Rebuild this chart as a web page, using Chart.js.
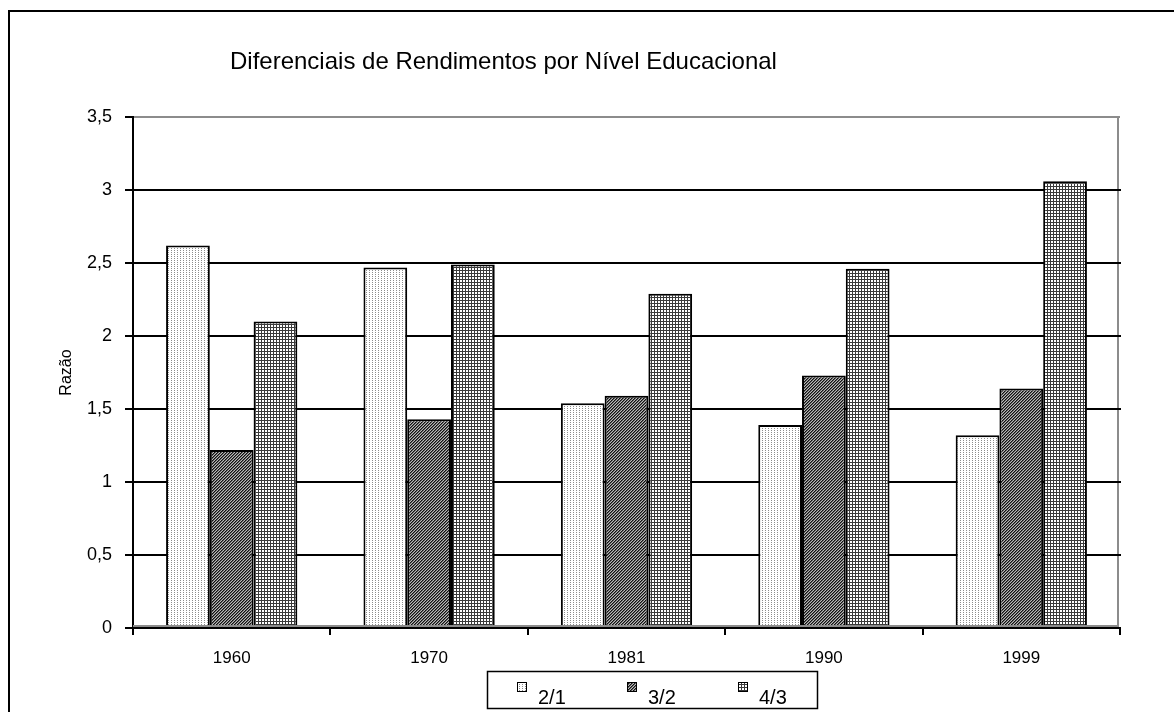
<!DOCTYPE html>
<html>
<head>
<meta charset="utf-8">
<script src="https://cdn.jsdelivr.net/npm/chart.js@4.4.1/dist/chart.umd.min.js"></script>
<style>
  html, body { margin: 0; padding: 0; background: #fff; }
  #wrap { width: 1174px; height: 712px; }
</style>
</head>
<body>
<div id="wrap"><canvas id="c" width="1174" height="712"></canvas></div>
<script>
const anos = ["1960", "1970", "1981", "1990", "1999"];
const razao21 = [2.62, 2.47, 1.54, 1.39, 1.32];
const razao32 = [1.22, 1.43, 1.59, 1.73, 1.64];
const razao43 = [2.10, 2.49, 2.29, 2.46, 3.06];
const rotulos = ["2/1", "3/2", "4/3"];
const titulo = "Diferenciais de Rendimentos por Nível Educacional";

const FONT = "'Liberation Sans', Arial, sans-serif";
const canvas = document.getElementById("c");
const ctx = canvas.getContext("2d");

// small tiles for the fill patterns
function tile(w, h, paint) {
  const c = document.createElement("canvas");
  c.width = w;
  c.height = h;
  const g = c.getContext("2d");
  g.fillStyle = "#fff";
  g.fillRect(0, 0, w, h);
  paint(g);
  return ctx.createPattern(c, "repeat");
}

const pontos = tile(3, 2, g => {
  g.fillStyle = "#8c8c8c";
  g.fillRect(0, 0, 1, 1);
});
const diagonal = tile(3, 3, g => {
  for (let x = 0; x < 3; x++) {
    for (let y = 0; y < 3; y++) {
      const k = (x + y) % 3;
      g.fillStyle = k === 0 ? "#111" : k === 1 ? "#606060" : "#b8b8b8";
      g.fillRect(x, y, 1, 1);
    }
  }
});
const grade = tile(3, 3, g => {
  g.fillStyle = "#3a3a3a";
  g.fillRect(0, 0, 3, 1);
  g.fillRect(0, 0, 1, 3);
});
const padroes = [pontos, diagonal, grade];

const moldura = {
  id: "moldura",
  beforeDraw(chart) {
    const c = chart.ctx;
    c.save();
    c.strokeStyle = "#000";
    c.lineWidth = 2;
    c.strokeRect(9, 11, 1300, 900);
    c.fillStyle = "#000";
    c.font = "24px " + FONT;
    c.textBaseline = "alphabetic";
    c.fillText(titulo, 230, 69);
    c.restore();
  },
  afterDraw(chart) {
    const c = chart.ctx;
    const a = chart.chartArea;
    const y = chart.scales.y;
    c.save();
    // gray right edge of the plot area and short stubs past it
    c.strokeStyle = "#8c8c8c";
    c.lineWidth = 2;
    c.beginPath();
    c.moveTo(a.right - 2, a.top);
    c.lineTo(a.right - 2, a.bottom - 1);
    c.moveTo(a.left, a.bottom - 2);
    c.lineTo(a.right - 2, a.bottom - 2);
    c.stroke();
    c.strokeStyle = "#000";
    c.beginPath();
    y.ticks.forEach(t => {
      if (t.value > 0 && t.value < 3.5) {
        const py = y.getPixelForValue(t.value);
        c.moveTo(a.right - 3, py);
        c.lineTo(a.right + 1, py);
      }
    });
    c.stroke();

    // legend box
    c.lineWidth = 1.5;
    c.strokeRect(487.5, 671.5, 330, 37);
    const xs = [517, 627, 738];
    c.font = "20px " + FONT;
    c.textBaseline = "alphabetic";
    chart.data.datasets.forEach((ds, i) => {
      c.fillStyle = ds.backgroundColor;
      c.fillRect(xs[i], 682, 10, 10);
      c.lineWidth = 1;
      c.strokeStyle = "#000";
      c.strokeRect(xs[i] + 0.5, 682.5, 9, 9);
      c.fillStyle = "#000";
      c.fillText(ds.label, xs[i] + 21, 704);
    });
    c.restore();
  }
};

new Chart(canvas, {
  type: "bar",
  data: {
    labels: anos,
    datasets: [razao21, razao32, razao43].map((d, i) => ({
      label: rotulos[i],
      data: d,
      backgroundColor: padroes[i],
      borderColor: "#000",
      borderWidth: 2,
      borderSkipped: "bottom",
      categoryPercentage: 0.665,
      barPercentage: 1.0,
    })),
  },
  options: {
    responsive: false,
    animation: false,
    layout: { padding: { top: 117, left: 40, right: 54, bottom: 39 } },
    plugins: {
      legend: { display: false },
      title: { display: false },
      tooltip: { enabled: false },
    },
    scales: {
      x: {
        afterFit(s) { s.height = 45; },
        grid: {
          offset: true,
          drawOnChartArea: false,
          tickLength: 7,
          tickColor: "#000",
          lineWidth: 2,
        },
        border: { color: "#000", width: 2 },
        ticks: { color: "#000", font: { family: FONT, size: 17 }, padding: 13 },
      },
      y: {
        min: 0,
        max: 3.5,
        afterFit(s) { s.width = 93; },
        grid: {
          color: c => (c.tick && (c.tick.value === 3.5 || c.tick.value === 0) ? "#8c8c8c" : "#000"),
          lineWidth: 2,
          tickLength: 8,
          tickColor: "#000",
        },
        border: { color: "#000", width: 2 },
        ticks: {
          stepSize: 0.5,
          color: "#000",
          font: { family: FONT, size: 18 },
          padding: 13,
          callback: v => String(v).replace(".", ","),
        },
        title: {
          display: true,
          text: "Razão",
          color: "#000",
          font: { family: FONT, size: 16 },
          padding: { top: 17, bottom: 0 },
        },
      },
    },
  },
  plugins: [moldura],
});
</script>
</body>
</html>
